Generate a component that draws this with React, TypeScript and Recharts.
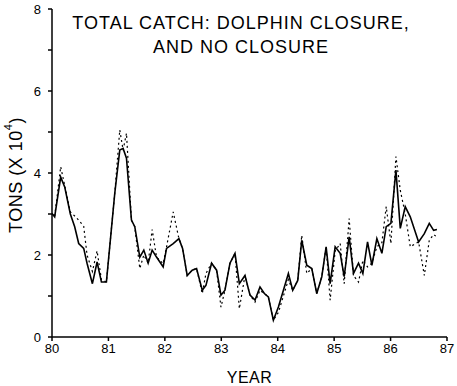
import { LineChart, Line, XAxis, YAxis, Label } from "recharts";

// decimal year positions
const years = [
  80.0, 80.047, 80.154, 80.225, 80.325, 80.402, 80.473, 80.562, 80.621, 80.716,
  80.799, 80.876, 80.964, 81.112, 81.201, 81.26, 81.32, 81.408, 81.467, 81.556,
  81.627, 81.704, 81.775, 81.852, 81.97, 82.03, 82.148, 82.249, 82.314, 82.396,
  82.485, 82.562, 82.663, 82.728, 82.828, 82.917, 82.994, 83.065, 83.154, 83.243,
  83.32, 83.42, 83.509, 83.598, 83.686, 83.763, 83.834, 83.923, 84.012, 84.101,
  84.189, 84.266, 84.355, 84.426, 84.515, 84.604, 84.692, 84.781, 84.858, 84.929,
  85.018, 85.107, 85.178, 85.266, 85.343, 85.432, 85.509, 85.592, 85.669, 85.757,
  85.846, 85.923, 86.006, 86.095, 86.172, 86.26, 86.349, 86.497, 86.598, 86.686,
  86.763, 86.822,
];

// solid line
const noClosure = [
  3.01, 2.93, 3.9, 3.66, 3.0, 2.69, 2.28, 2.16, 1.8, 1.3,
  1.83, 1.34, 1.34, 3.5, 4.56, 4.6, 4.36, 2.85, 2.69, 1.95,
  2.12, 1.8, 2.12, 1.95, 1.71, 2.16, 2.28, 2.4, 2.16, 1.5,
  1.63, 1.67, 1.14, 1.26, 1.8, 1.63, 1.02, 1.14, 1.8, 2.04,
  1.3, 1.5, 1.02, 0.9, 1.22, 1.06, 0.98, 0.41, 0.73, 1.14,
  1.55, 1.14, 1.38, 2.36, 1.75, 1.67, 1.06, 1.47, 2.2, 1.3,
  2.2, 2.04, 1.47, 2.44, 1.55, 1.8, 1.55, 2.32, 1.75, 2.4,
  2.04, 2.69, 2.77, 4.07, 2.65, 3.18, 2.93, 2.32, 2.52, 2.77,
  2.6, 2.62,
];

// dotted line
const dolphinClosure = [
  3.01, 2.93, 4.15, 3.7, 3.05, 2.95, 2.85, 2.7, 2.0, 1.6,
  2.1, 1.4, 1.34, 3.5, 5.05, 4.56, 4.97, 2.85, 2.69, 1.67,
  2.0, 1.8, 2.62, 1.95, 1.79, 2.2, 3.05, 2.4, 2.16, 1.5,
  1.63, 1.67, 1.06, 1.55, 1.8, 1.63, 0.73, 1.14, 1.8, 2.04,
  0.69, 1.5, 1.02, 0.85, 1.14, 1.06, 0.98, 0.41, 0.6, 1.0,
  1.4, 1.14, 1.38, 2.48, 1.55, 1.67, 1.06, 1.47, 2.2, 0.9,
  2.1, 2.28, 1.3, 2.89, 1.5, 1.34, 1.87, 1.71, 1.8, 2.2,
  2.3, 3.18, 2.28, 4.4, 3.58, 3.0, 2.2, 2.32, 1.5, 2.36,
  2.5, 2.44,
];

const xTicks = [80, 81, 82, 83, 84, 85, 86, 87];
const yTicks = [0, 1, 2, 3, 4, 5, 6, 7, 8];

const data = years.map((year, i) => ({
  year,
  noClosure: noClosure[i],
  closure: dolphinClosure[i],
}));

const font = "'Liberation Sans', Arial, sans-serif";

const YLabel = ({ viewBox }: any) => {
  const cx = 16;
  const cy = viewBox.y + viewBox.height / 2 + 2;
  return (
    <text
      x={cx}
      y={cy}
      transform={`rotate(-90, ${cx}, ${cy})`}
      textAnchor="middle"
      dominantBaseline="central"
      fontFamily={font}
      fontSize={18}
      letterSpacing={0.5}
      fill="#000"
    >
      TONS  (X 10<tspan dy={-8} fontSize={11}>4</tspan>
      <tspan dy={8}>)</tspan>
    </text>
  );
};

export default function App() {
  return (
    <div style={{ position: "absolute", left: 0, top: 0, width: 457, height: 386, background: "#fff" }}>
      <LineChart
        width={457}
        height={386}
        data={data}
        margin={{ top: 9, right: 10, bottom: 19, left: 12 }}
      >
        <XAxis
          dataKey="year"
          type="number"
          domain={[80, 87]}
          ticks={xTicks}
          allowDataOverflow
          stroke="#000"
          strokeWidth={1.5}
          tickSize={4}
          tickMargin={3}
          tick={{ fill: "#000", fontSize: 13, fontFamily: font }}
          height={30}
        >
          <Label
            value="YEAR"
            position="insideBottom"
            offset={-16}
            fill="#000"
            fontSize={16}
            letterSpacing={0.5}
            fontFamily={font}
          />
        </XAxis>
        <YAxis
          type="number"
          domain={[0, 8]}
          ticks={yTicks}
          interval={0}
          width={40}
          stroke="#000"
          strokeWidth={1.5}
          tickSize={4}
          tickMargin={7}
          tickFormatter={(v: number) => (v % 2 === 0 ? String(v) : "")}
          tick={{ fill: "#000", fontSize: 13, fontFamily: font }}
        >
          <Label content={<YLabel />} />
        </YAxis>
        <Line
          type="linear"
          dataKey="closure"
          stroke="#000"
          strokeWidth={1.2}
          strokeDasharray="2 3"
          dot={false}
          isAnimationActive={false}
        />
        <Line
          type="linear"
          dataKey="noClosure"
          stroke="#000"
          strokeWidth={1.6}
          dot={false}
          isAnimationActive={false}
        />
      </LineChart>
      <div
        style={{
          position: "absolute",
          left: 52,
          width: 378,
          top: 11,
          textAlign: "center",
          fontFamily: font,
          fontSize: 18,
          letterSpacing: 1,
          lineHeight: "24px",
          color: "#000",
        }}
      >
        TOTAL CATCH: DOLPHIN CLOSURE,
        <br />
        AND NO CLOSURE
      </div>
    </div>
  );
}
